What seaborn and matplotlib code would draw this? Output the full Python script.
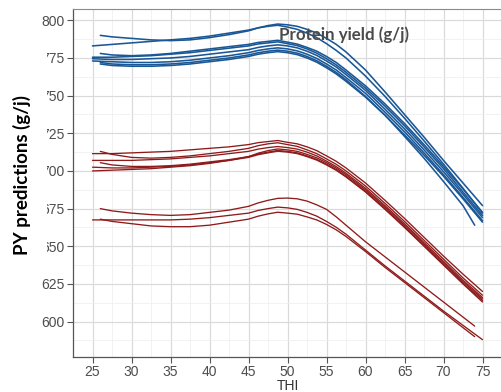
import matplotlib
matplotlib.use("Agg")
import matplotlib.pyplot as plt
import pandas as pd
import seaborn as sns
from matplotlib.patches import Rectangle
from matplotlib.ticker import MultipleLocator

# THI knots shared by every curve; first/last knot replaced by each curve's own range
thi_knots = [25, 27.5, 30, 32.5, 35, 37.5, 40, 42.5, 45, 46.25, 47.5, 48.75, 50,
             51.25, 52.5, 53.75, 55, 56.25, 57.5, 60, 62.5, 65, 67.5, 70, 72.5, 75]

# Protein yield predictions (g/j), blue group
b1 = [790, 789, 788, 787, 786.5, 787, 788.5, 790.5, 793, 795, 796.5, 797.5, 797, 796, 794, 791.5, 788, 784, 779, 767, 752.5, 737.5, 722.5, 707, 692, 677]
b2 = [783, 784, 785, 786, 787, 788, 789.5, 791.5, 793.5, 795, 796, 796.7, 795.5, 794, 791.5, 788.5, 784.5, 780, 775, 763, 749.5, 735, 720, 704.5, 688.5, 672]
b3 = [778, 777, 776.5, 777, 778, 779.5, 781, 782.5, 784, 785.3, 786, 786.7, 785.5, 784.2, 782, 779.5, 776, 772, 767, 756.5, 744.5, 731.5, 717.5, 703, 688, 672.5]
b4 = [775.5, 775.5, 776, 776.5, 777.5, 778.5, 780, 781.5, 783, 784.3, 785, 785.7, 784.5, 783.2, 781, 778.2, 774.5, 770.4, 765.5, 755, 743, 730, 716, 701.5, 686, 670.5]
b5 = [774.5, 774, 774, 774.5, 775, 776, 777.5, 779, 780.5, 782, 783, 783.7, 783, 781.7, 779.5, 776.7, 773, 769, 764, 753.5, 741, 728, 714, 699.5, 684.5, 669]
b6 = [773, 772.5, 772, 772, 772.5, 773.5, 775, 776.5, 778.5, 780, 781, 781.7, 781, 779.7, 777.5, 774.7, 771, 767, 762, 751.5, 739, 726, 712, 697.5, 682.5, 667]
b7 = [772, 771, 770.5, 770.5, 771, 772, 773.5, 775, 777, 778.5, 779.5, 780.2, 779.5, 778.2, 776, 773.2, 769.5, 765.4, 760.5, 749.5, 737, 723, 708.5, 693, 677, 664]
b8 = [771, 770, 769.5, 769.5, 770, 771, 772.5, 774, 776, 777.5, 778.5, 779.2, 778.5, 777.2, 775, 772.2, 768.5, 764.4, 759.5, 749, 737, 724, 710.5, 696.5, 681.5, 666]
blue_series = [b1, b2, b3, b4, b5, b6, b7, b8]
blue_start = [26, 25, 26, 25, 25, 25, 26, 26]
blue_end = [75, 75, 75, 75, 75, 75, 74, 75]

# Protein yield predictions (g/j), red group
r1 = [711.5, 711.5, 712, 712.5, 713, 714, 715, 716, 717.5, 718.8, 719.5, 720.2, 719, 718, 716, 713.5, 710, 706.4, 702, 692, 680.5, 668.5, 656, 643.5, 631.5, 620]
r2 = [713, 711, 709, 708.5, 709, 710, 711.5, 713, 715, 716.8, 718, 718.7, 717.5, 716.3, 714, 711.5, 708, 704.4, 700, 690, 678.5, 666.5, 654, 641.5, 629, 617.5]
r3 = [707, 707, 707, 707.5, 708, 709, 710, 711.5, 713, 714.5, 715.5, 716.2, 715.5, 714.5, 712.5, 710, 706.5, 702.9, 698.5, 688.5, 677, 665, 652.5, 640, 627.5, 616]
r4 = [705.5, 704, 703, 703, 703.5, 704.5, 706, 707.5, 709.5, 711.3, 712.5, 713.6, 713, 712, 710, 707.7, 704.5, 700.9, 696.5, 686.5, 675, 663, 650.5, 638, 625.5, 614]
r5 = [702.5, 702, 702, 702.5, 703, 704, 705.5, 707, 709, 710.8, 712, 713.1, 712.5, 711.5, 709.5, 707.2, 704, 700.4, 696, 686, 674.5, 662.5, 650, 637.5, 625, 613]
r6 = [700, 700.5, 701, 701.5, 702.5, 703.5, 705, 707, 709.5, 711.8, 713.5, 714.6, 714, 713, 711, 708.7, 705.5, 701.9, 697.5, 687.5, 676, 664, 651.5, 639, 626.5, 615]
r7 = [675, 673.5, 672, 671, 670.5, 671, 672.5, 674, 676.5, 678.8, 680.5, 681.8, 682, 681.5, 680, 677.5, 674.5, 669.5, 664, 653, 643, 633, 623, 613, 603, 597]
r8 = [667.5, 667.5, 667.5, 667.5, 667.5, 668, 669, 670.5, 672, 673.8, 675, 676, 675.5, 674.5, 672.5, 670, 666.5, 662.6, 658, 647.5, 637, 627, 617, 607, 597.5, 588]
r9 = [668, 666.5, 665, 663.5, 663, 663, 664, 666, 668, 670, 671.5, 672.6, 672, 671.3, 669.5, 667.5, 664.5, 660.9, 656.5, 646.5, 636, 626, 616, 606, 596, 590]
red_series = [r1, r2, r3, r4, r5, r6, r7, r8, r9]
red_start = [25, 26, 25, 26, 25, 25, 26, 25, 26]
red_end = [75, 75, 75, 75, 75, 75, 74, 75, 74]

BLUE = "#1a5796"
RED = "#8e1b1b"


def to_long(series, starts, ends, group):
    rows = []
    for i, (vals, s, e) in enumerate(zip(series, starts, ends)):
        xs = [s] + thi_knots[1:-1] + [e]
        for x, y in zip(xs, vals):
            rows.append({"THI": x, "PY": y, "line": f"{group}{i}", "group": group})
    return pd.DataFrame(rows)


df_blue = to_long(blue_series, blue_start, blue_end, "blue")
df_red = to_long(red_series, red_start, red_end, "red")

sns.set_theme(style="white")
plt.rcParams["font.family"] = ["Liberation Sans", "DejaVu Sans"]

W, H = 501, 392
fig = plt.figure(figsize=(W / 100, H / 100), dpi=100)
ax = fig.add_axes([73 / W, 1 - 357 / H, 429 / W, 348 / H])
ax.set_facecolor("white")

sns.lineplot(data=df_red, x="THI", y="PY", units="line", estimator=None,
             color=RED, linewidth=0.95, ax=ax, legend=False)
sns.lineplot(data=df_blue, x="THI", y="PY", units="line", estimator=None,
             color=BLUE, linewidth=1.15, ax=ax, legend=False)

ax.set_xlim(22.5, 77.5)
ax.set_ylim(576.5, 807.5)
ax.xaxis.set_major_locator(MultipleLocator(5))
ax.xaxis.set_minor_locator(MultipleLocator(2.5))
ax.yaxis.set_major_locator(MultipleLocator(25))
ax.yaxis.set_minor_locator(MultipleLocator(12.5))
ax.set_axisbelow(True)
ax.grid(which="major", color="#dadada", linewidth=0.85)
ax.grid(which="minor", color="#efefef", linewidth=0.55)

for side in ("left", "bottom"):
    ax.spines[side].set_color("#555555")
    ax.spines[side].set_linewidth(0.9)
ax.spines["top"].set_color("#8a8a8a")
ax.spines["top"].set_linewidth(0.8)
ax.spines["right"].set_visible(False)

ax.tick_params(which="major", direction="out", length=4, width=0.8,
               color="#555555", labelsize=10, labelcolor="#4d4d4d", pad=2,
               left=True, bottom=True)
ax.tick_params(which="minor", length=0)

ax.set_xlabel("THI", fontsize=10, color="#333333", labelpad=-0.3)
ax.set_ylabel("")

ax.text(48.85, 786.9, "Protein yield (g/j)", fontsize=12.2, fontweight="bold",
        color="#4a4a4a", family=["Lato", "DejaVu Sans"], va="baseline", zorder=5)

# white box behind the vertical axis title
box = Rectangle((0, 1 - 265 / H), 46.5 / W, 218 / H, transform=fig.transFigure,
                facecolor="white", edgecolor="none", zorder=1)
fig.add_artist(box)
fig.text(22 / W, 1 - 175 / H, "PY predictions (g/j)", rotation=90,
         ha="center", va="center", fontsize=13.5, fontweight="bold",
         color="black", family=["Lato", "DejaVu Sans"], zorder=3)

fig.savefig("out.png", dpi=100)
